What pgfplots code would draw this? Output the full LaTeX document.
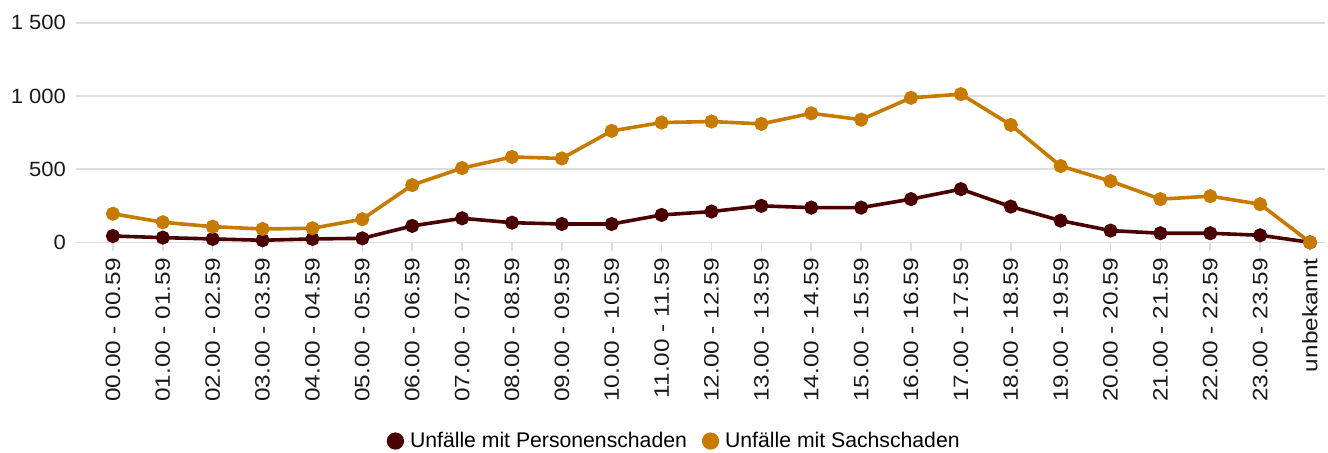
\documentclass[border=0pt]{standalone}
\usepackage{fontspec}
\setmainfont{Liberation Sans}
\newfontfamily\xfont[FakeStretch=1.17]{Liberation Sans}
\newfontfamily\yfont[FakeStretch=1.07]{Liberation Sans}
\usepackage{pgfplots}
\pgfplotsset{compat=1.18}
\definecolor{pers}{HTML}{4A0000}
\definecolor{sach}{HTML}{C77A00}
\definecolor{gridc}{HTML}{DEDEDE}
\begin{document}
\begin{tikzpicture}
\path[use as bounding box] (-42.5pt,-104.85pt) rectangle (621.5pt,121.15pt);
\begin{axis}[
  scale only axis, width=620pt, height=109.8pt,
  xmin=-0.56, xmax=24.3, ymin=0, ymax=1500,
  axis line style={draw=none},
  ytick={0,500,1000,1500},
  xtick={0,...,24},
  xticklabels={00.00 - 00.59,01.00 - 01.59,02.00 - 02.59,03.00 - 03.59,04.00 - 04.59,05.00 - 05.59,06.00 - 06.59,07.00 - 07.59,08.00 - 08.59,09.00 - 09.59,10.00 - 10.59,11.00 - 11.59,12.00 - 12.59,13.00 - 13.59,14.00 - 14.59,15.00 - 15.59,16.00 - 16.59,17.00 - 17.59,18.00 - 18.59,19.00 - 19.59,20.00 - 20.59,21.00 - 21.59,22.00 - 22.59,23.00 - 23.59,unbekannt},
  ymajorgrids, grid style={gridc, line width=0.8pt},
  tick style={gridc, line width=0.8pt},
  tick align=outside, major tick length=4.5pt,
  xtick pos=bottom, ytick pos=left,
  x tick label style={rotate=90, anchor=east, font=\xfont\fontsize{10.4}{12}\selectfont, text=black!90},
  y tick label style={font=\yfont\fontsize{10.3}{12}\selectfont, text=black!90, xshift=-1.5pt},
  /pgf/number format/assume math mode=true,
  /pgf/number format/1000 sep={\ },
  clip=false,
  legend columns=2,
  legend style={draw=none, fill=none, at={(0.476,-0.905)}, anchor=center,
    font=\fontsize{10.6}{12}\selectfont,
    /tikz/every even column/.append style={column sep=5.5pt}},
  legend image code/.code={\fill[#1] (0,0) circle (3.4pt); \path (-3.4pt,0) -- (4.4pt,0);},
]
\addplot[pers, line width=1.8pt, mark=*, mark size=2.6pt] coordinates {
(0,43) (1,32) (2,23) (3,14) (4,23) (5,27) (6,112) (7,164) (8,134) (9,125) (10,125) (11,187) (12,210) (13,249) (14,237) (15,237) (16,295) (17,363) (18,244) (19,148) (20,80) (21,62) (22,62) (23,48) (24,0)};
\addlegendentry{Unfälle mit Personenschaden}
\addplot[sach, line width=1.8pt, mark=*, mark size=2.6pt] coordinates {
(0,195) (1,137) (2,107) (3,91) (4,96) (5,158) (6,391) (7,507) (8,583) (9,573) (10,761) (11,818) (12,825) (13,809) (14,881) (15,838) (16,987) (17,1012) (18,802) (19,521) (20,418) (21,295) (22,315) (23,260) (24,0)};
\addlegendentry{Unfälle mit Sachschaden}
\end{axis}
\end{tikzpicture}
\end{document}
